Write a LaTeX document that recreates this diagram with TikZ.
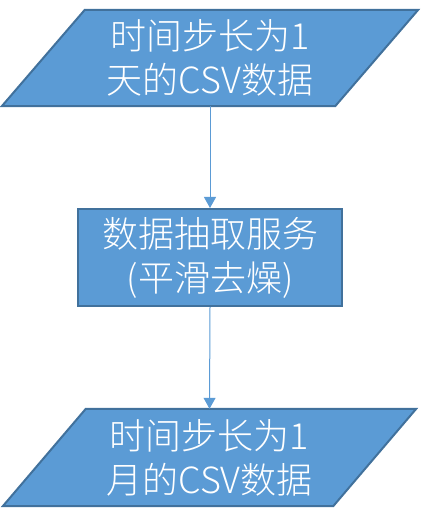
\documentclass[tikz,border=0pt]{standalone}
\usepackage{fontspec}
\setmainfont{Noto Sans CJK SC Light}
\usetikzlibrary{arrows.meta}
\definecolor{boxfill}{HTML}{5B9BD5}
\definecolor{boxline}{HTML}{41719C}
\definecolor{conn}{HTML}{5B9BD5}
\begin{document}
\begin{tikzpicture}[x=1pt,y=-1pt,
  txt/.style={text=white,align=center,font=\fontsize{36}{44}\selectfont,inner sep=0pt},
  databox/.style={txt,minimum width=333pt,minimum height=96pt},
  procbox/.style={txt,draw=boxline,fill=boxfill,line width=2pt,minimum width=264pt,minimum height=97pt},
  para/.style={draw=boxline,fill=boxfill,line width=2pt,line join=miter},
  conn/.style={draw=conn,line width=1pt,-{Triangle[width=12pt,length=11pt]}}]
\useasboundingbox (0,0) rectangle (421,526);
% top data node
\node[databox] (in) at (210,58) {};
\path[para] ([xshift=41.5pt]in.north west) -- ([xshift=41.5pt]in.north east)
  -- ([xshift=-41.5pt]in.south east) -- ([xshift=-41.5pt]in.south west) -- cycle;
\node[txt] (intxt) at (in.center) {时间步长为1\\天的CSV数据};
% process
\node[procbox] (proc) at (210,257.5) {数据抽取服务\\(平滑去燥)};
% bottom data node
\node[databox,minimum width=330pt,minimum height=97pt] (out) at (209.5,457.5) {};
\path[para] ([xshift=41.5pt]out.north west) -- ([xshift=41.5pt]out.north east)
  -- ([xshift=-41.5pt]out.south east) -- ([xshift=-41.5pt]out.south west) -- cycle;
\node[txt] (outtxt) at (out.center) {时间步长为1\\月的CSV数据};
% connectors
\draw[conn] (in.south) -- (proc.north);
\draw[conn] (proc.south) -- (out.north);
\end{tikzpicture}
\end{document}
